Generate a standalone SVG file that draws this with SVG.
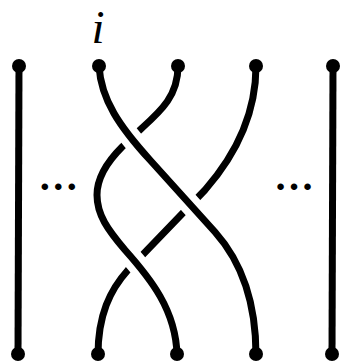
<svg xmlns="http://www.w3.org/2000/svg" width="340" height="363" viewBox="0 0 340 363">
<style>
.s{fill:none;stroke:#000;stroke-width:7;stroke-linecap:butt;stroke-linejoin:round}
.c{fill:none;stroke:#fff;stroke-width:21;stroke-linecap:butt}
.d{fill:#000}
.t{font-family:"Liberation Serif","Times New Roman",serif;fill:#000}
</style>
<rect width="340" height="363" fill="#fff"/>
<g id="connectors">
<path id="strand-1" class="s" d="M19,66 L18,354"/>
<path id="strand-5" class="s" d="M333,66 L332,354"/>
<path id="strand-4" class="s" d="M256,66 C256,110 240,150 205,190 L128,270 C110,290 98,315 98,355"/>
<path class="c" d="M122,147 C104,165 97,180 97,195 C97,215 108,230 125,250 C150,278 176,310 177,345"/>
<path id="strand-3" class="s" d="M178,66 C178,95 162,110 142,128 L122,147 C104,165 97,180 97,195 C97,215 108,230 125,250 C150,278 176,310 177,355"/>
<path class="c" d="M99,76 C101,100 120,127 150,160 L215,232 C240,260 256,300 256,345"/>
<path id="strand-2" class="s" d="M99,66 C101,100 120,127 150,160 L215,232 C240,260 256,300 256,355"/>
</g>
<g id="top-endpoints">
<circle id="top-1" class="d" cx="19" cy="66" r="7"/>
<circle id="top-2" class="d" cx="99" cy="66" r="7"/>
<circle id="top-3" class="d" cx="178" cy="66" r="7"/>
<circle id="top-4" class="d" cx="256" cy="66" r="7"/>
<circle id="top-5" class="d" cx="333" cy="66" r="7"/>
</g>
<g id="bottom-endpoints">
<circle id="bottom-1" class="d" cx="18" cy="354" r="7"/>
<circle id="bottom-2" class="d" cx="98" cy="354" r="7"/>
<circle id="bottom-3" class="d" cx="177" cy="354" r="7"/>
<circle id="bottom-4" class="d" cx="256" cy="354" r="7"/>
<circle id="bottom-5" class="d" cx="332" cy="354" r="7"/>
</g>
<g id="labels">
<text class="t" x="98" y="43" font-size="47" font-style="italic" text-anchor="middle">i</text>
<text class="t" x="58.3" y="190" font-size="40" font-weight="bold" text-anchor="middle">…</text>
<text class="t" x="294" y="190" font-size="40" font-weight="bold" text-anchor="middle">…</text>
</g>
</svg>
